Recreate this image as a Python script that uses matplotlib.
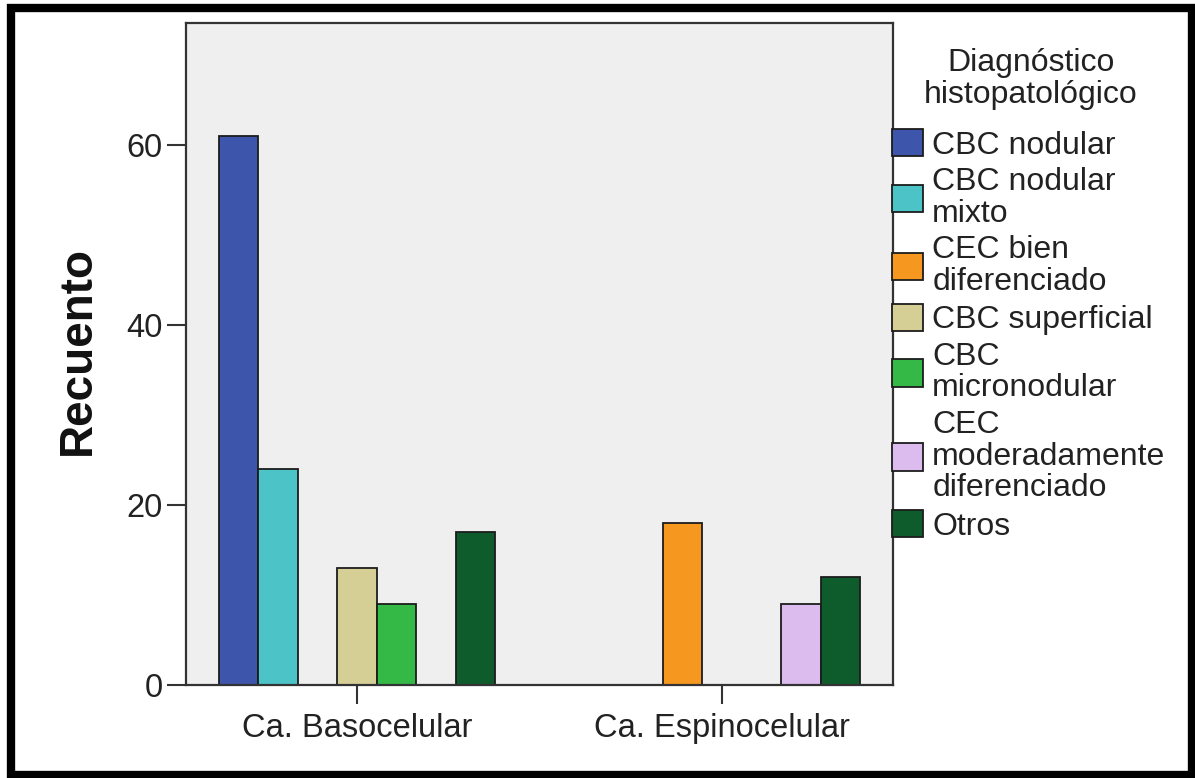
import numpy as np
import matplotlib.pyplot as plt
from matplotlib.patches import Rectangle

plt.rcParams['font.family'] = ['Liberation Sans', 'DejaVu Sans']

# Data
groups = ['Ca. Basocelular', 'Ca. Espinocelular']
diagnoses = ['CBC nodular', 'CBC nodular\nmixto', 'CEC bien\ndiferenciado',
             'CBC superficial', 'CBC\nmicronodular',
             'CEC\nmoderadamente\ndiferenciado', 'Otros']
counts_baso = [61, 24, 0, 13, 9, 0, 17]
counts_espino = [0, 0, 18, 0, 0, 9, 12]
colors = ['#3d55ab', '#4cc3c6', '#f6981f', '#d5cf96', '#34b947', '#dcbcef', '#0e5b2c']

fig = plt.figure(figsize=(11.95, 7.78), dpi=100)
ax = fig.add_axes([186/1195, 93/778, 707/1195, 662/778])
ax.set_facecolor('#efefef')

x = np.arange(len(groups))
n = len(diagnoses)
w = 0.108
for i in range(n):
    vals = [counts_baso[i], counts_espino[i]]
    ax.bar(x + (i - (n - 1) / 2) * w, vals, width=w, color=colors[i],
           edgecolor='#1c1c1c', linewidth=1.3, label=diagnoses[i])

ax.set_xlim(-0.468, 1.468)
ax.set_ylim(0, 73.5)
ax.set_yticks([0, 20, 40, 60])
ax.set_xticks(x)
ax.set_xticklabels(groups)
ax.tick_params(axis='both', labelsize=23.5, length=14, width=1.5,
               color='#333333', labelcolor='#222222', pad=3)
ax.tick_params(axis='x', pad=6)
for s in ax.spines.values():
    s.set_color('#333333')
    s.set_linewidth(1.6)

ax.set_ylabel('Recuento', fontsize=33, fontweight='bold', color='#111111')
ax.yaxis.set_label_coords(-0.122, 0.505)

# legend title drawn separately so the gap below it can be set
fig.text(1031/1195, 1 - 79/778, 'Diagnóstico\nhistopatológico', ha='center',
         va='center', multialignment='center', fontsize=23, linespacing=1.07,
         color='#222222')

leg = ax.legend(loc='upper left', bbox_to_anchor=(0.999, 1 - 106/662), frameon=False,
                fontsize=23, handlelength=0.97, handleheight=0.94,
                handletextpad=0.28, labelspacing=0.2, borderpad=0,
                borderaxespad=0)
for t in leg.get_texts():
    t.set_linespacing(1.08)
    t.set_color('#222222')

# black frame around the whole picture
fig.patches.append(Rectangle((11/1195, 3/778), 1181/1195, 767/778,
                             transform=fig.transFigure, fill=False,
                             edgecolor='black', linewidth=6))

fig.savefig('out.png', dpi=100)
